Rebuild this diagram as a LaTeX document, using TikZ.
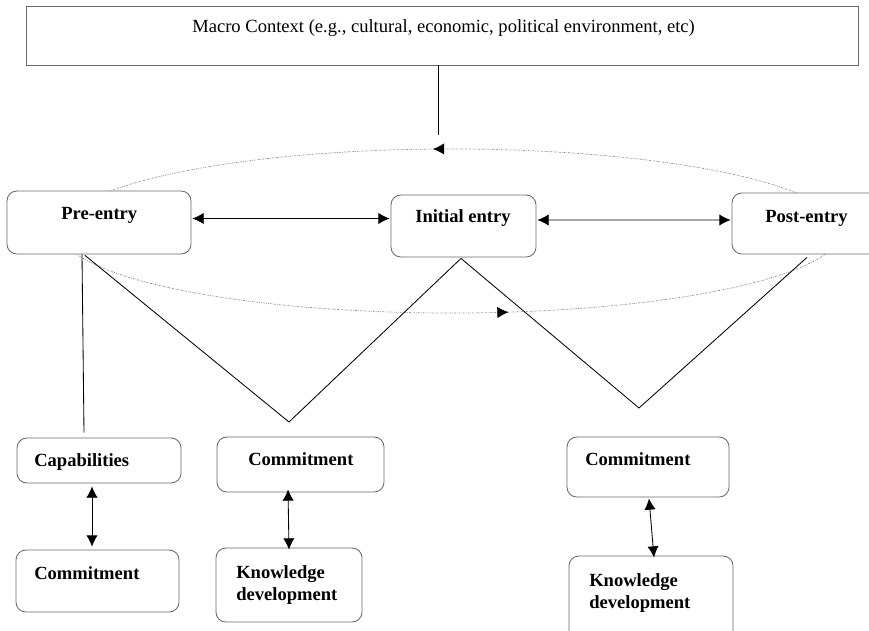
\documentclass[tikz,border=0pt]{standalone}
\usepackage{fontspec}
\setmainfont{Liberation Serif}
\usetikzlibrary{arrows.meta, positioning, calc, fit, decorations.markings}
\definecolor{BoxLine}{RGB}{105,105,105}
\definecolor{LoopLine}{RGB}{140,140,140}
\tikzset{
    stage/.style={draw=BoxLine, line width=0.6pt, rounded corners=7pt, fill=white, inner sep=0pt},
    frame/.style={draw=BoxLine, line width=0.6pt, fill=white, inner sep=0pt},
    lbl/.style={anchor=base west, inner sep=0pt, align=left, font=\fontsize{13.2}{15.6}\selectfont\bfseries},
    ctx/.style={anchor=base west, inner sep=0pt, font=\fontsize{13.2}{15.6}\selectfont},
    link/.style={line width=0.6pt},
    both/.style={line width=0.6pt, {Latex[length=8pt,width=8pt]}-{Latex[length=8pt,width=8pt]}},
}

\begin{document}
\begin{tikzpicture}[
  x=0.025cm, y=-0.025cm, % one unit = one pixel, y runs down
  loop/.style={draw=LoopLine, line width=0.5pt, dash pattern=on 1.2pt off 0.8pt on 0.4pt off 0.8pt},
  ]
\useasboundingbox (0,0) rectangle (869,631);
\clip (0,0) rectangle (869,631);

% the cycle behind the three stages
\coordinate (orbit) at (451,231);
\draw[loop, postaction={decorate}, decoration={markings,
    mark=at position 0.261 with {\arrow[black]{Latex[length=8pt,width=8pt]}},
    mark=at position 0.785 with {\arrow[black]{Latex[length=8pt,width=8pt]}}}]
  (orbit) ellipse [x radius=9.75cm, y radius=2.05cm];

\node[frame, fit={(26,6) (858,65)}] (macro) {};
\node[ctx] (macroT) at (192,32) {Macro Context (e.g., cultural, economic, political environment, etc)};

\node[stage, fit={(7,191) (191,254)}] (pre) {};
\node[lbl] (preT) at (61,219) {Pre-entry};
\node[stage, fit={(391,195) (536,257)}] (init) {};
\node[lbl] (initT) at (415,222) {Initial entry};
\node[stage, fit={(732,193) (900,254)}] (post) {};
\node[lbl] (postT) at (765,222) {Post-entry};

\node[stage, fit={(17,438) (181,483)}] (cap) {};
\node[lbl] (capT) at (34,466) {Capabilities};
\node[stage, fit={(16,550) (179,612)}] (comA) {};
\node[lbl] (comAT) at (34,579) {Commitment};

\node[stage, fit={(217,437) (384,492)}] (comB) {};
\node[lbl] (comBT) at (248,465) {Commitment};
\node[stage, fit={(216,548) (362,622)}] (kdB) {};
\node[lbl] (kdBT) at (236,600) {Knowledge\\development}; % base = last line

\node[stage, fit={(567,437) (729,497)}] (comC) {};
\node[lbl] (comCT) at (585,465) {Commitment};
\node[stage, fit={(569,556) (733,660)}] (kdC) {};
\node[lbl] (kdCT) at (589,608) {Knowledge\\development};

% connectors
\coordinate (ctxEnd) at (438,135);
\coordinate (dipA) at (289,422);
\coordinate (dipB) at (639,408);
\draw[link] ($(macro.south)+(-4,0)$) -- (ctxEnd);
\draw[link] ($(pre.south)+(-17,0)$) -- ($(cap.north)+(-15,-5)$);
\draw[link] ($(pre.south)+(-14,1)$) -- (dipA) -- ($(init.south)+(-2.5,1)$)
    -- (dipB) -- ($(post.south)+(-9,3)$);

\draw[both] ($(pre.east)+(1,-4)$) -- ($(init.west)+(-1,-7.5)$);
\draw[both] ($(init.east)+(1,-6)$) -- ($(post.west)+(-1,-3.5)$);
\draw[both] ($(cap.south)+(-7,3)$) -- ($(comA.north)+(-5.5,-3)$);
\draw[both] ($(comB.south)+(-12.5,-3)$) -- ($(kdB.north)+(0,2)$);
\draw[both] ($(comC.south)+(1,1)$) -- ($(kdC.north)+(3,2)$);

\end{tikzpicture}
\end{document}
